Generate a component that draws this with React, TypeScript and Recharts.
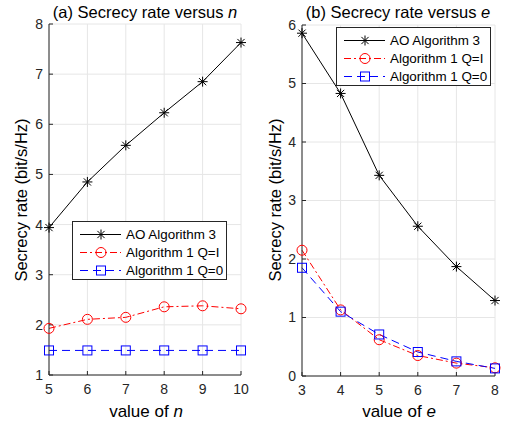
import React from "react";
import { LineChart, Line, XAxis, YAxis, CartesianGrid } from "recharts";

const nValues = [5, 6, 7, 8, 9, 10];
const nAO = [3.94, 4.85, 5.58, 6.23, 6.85, 7.63];
const nQI = [1.93, 2.11, 2.15, 2.36, 2.38, 2.32];
const nQ0 = [1.49, 1.49, 1.49, 1.49, 1.49, 1.49];
const nYTicks = [1, 2, 3, 4, 5, 6, 7, 8];

const eValues = [3, 4, 5, 6, 7, 8];
const eAO = [5.86, 4.83, 3.43, 2.56, 1.87, 1.29];
const eQI = [2.15, 1.13, 0.62, 0.35, 0.22, 0.14];
const eQ0 = [1.85, 1.1, 0.71, 0.41, 0.25, 0.13];
const eYTicks = [0, 1, 2, 3, 4, 5, 6];

const seriesNames = ["AO Algorithm 3", "Algorithm 1 Q=I", "Algorithm 1 Q=0"];

const FONT = "'Liberation Sans', Arial, sans-serif";
const AXIS = "#262626";

const Star = (props: any) => {
  const { cx, cy } = props;
  if (cx == null || cy == null) return null;
  const r = 5;
  const d = 3.6;
  return (
    <g stroke="#000" strokeWidth={1}>
      <line x1={cx - r} y1={cy} x2={cx + r} y2={cy} />
      <line x1={cx} y1={cy - r} x2={cx} y2={cy + r} />
      <line x1={cx - d} y1={cy - d} x2={cx + d} y2={cy + d} />
      <line x1={cx - d} y1={cy + d} x2={cx + d} y2={cy - d} />
    </g>
  );
};

const Circle = (props: any) => {
  const { cx, cy } = props;
  if (cx == null || cy == null) return null;
  return <circle cx={cx} cy={cy} r={5} fill="none" stroke="#ff0000" strokeWidth={1} />;
};

const Square = (props: any) => {
  const { cx, cy } = props;
  if (cx == null || cy == null) return null;
  return <rect x={cx - 4.5} y={cy - 4.5} width={9} height={9} fill="none" stroke="#0000ff" strokeWidth={1} />;
};

const tickStyle = { fontSize: 14, fill: AXIS, fontFamily: FONT };

function Panel(props: {
  xs: number[];
  ao: number[];
  qi: number[];
  q0: number[];
  yTicks: number[];
  left: number;
  marginLeft: number;
  marginTop: number;
  marginBottom: number;
}) {
  const { xs, ao, qi, q0, yTicks } = props;
  const data = xs.map((x, i) => ({ x, ao: ao[i], qi: qi[i], q0: q0[i] }));
  const xDomain = [xs[0], xs[xs.length - 1]];
  const yDomain = [yTicks[0], yTicks[yTicks.length - 1]];
  return (
    <div style={{ position: "absolute", left: props.left, top: 0 }}>
      <LineChart
        width={254}
        height={425}
        data={data}
        margin={{ top: props.marginTop, right: 13, bottom: props.marginBottom, left: props.marginLeft }}
      >
        <CartesianGrid stroke="#e6e6e6" />
        <XAxis
          dataKey="x"
          type="number"
          domain={xDomain}
          ticks={xs}
          height={30}
          stroke={AXIS}
          tickSize={-4}
          tickMargin={13}
          tick={tickStyle}
        />
        <XAxis
          xAxisId="top"
          orientation="top"
          dataKey="x"
          type="number"
          domain={xDomain}
          ticks={xs}
          height={0}
          stroke={AXIS}
          tickSize={-4}
          tick={false}
        />
        <YAxis
          type="number"
          domain={yDomain}
          ticks={yTicks}
          width={30}
          stroke={AXIS}
          tickSize={-4}
          tickMargin={10}
          tick={tickStyle}
        />
        <YAxis
          yAxisId="right"
          orientation="right"
          type="number"
          domain={yDomain}
          ticks={yTicks}
          width={0}
          stroke={AXIS}
          tickSize={-4}
          tick={false}
        />
        <Line dataKey="ao" stroke="#000" strokeWidth={1} dot={<Star />} isAnimationActive={false} />
        <Line
          dataKey="qi"
          stroke="#ff0000"
          strokeWidth={1}
          strokeDasharray="7 3 2 3"
          dot={<Circle />}
          isAnimationActive={false}
        />
        <Line
          dataKey="q0"
          stroke="#0000ff"
          strokeWidth={1}
          strokeDasharray="8 5"
          dot={<Square />}
          isAnimationActive={false}
        />
      </LineChart>
    </div>
  );
}

function LegendBox(props: { left: number; top: number }) {
  const markers = [
    { color: "#000", dash: undefined, mark: (x: number, y: number) => <Star cx={x} cy={y} /> },
    { color: "#ff0000", dash: "7 3 2 3", mark: (x: number, y: number) => <Circle cx={x} cy={y} /> },
    { color: "#0000ff", dash: "8 5", mark: (x: number, y: number) => <Square cx={x} cy={y} /> },
  ];
  return (
    <div
      style={{
        position: "absolute",
        left: props.left,
        top: props.top,
        width: 155,
        height: 59,
        background: "#fff",
        border: `1px solid ${AXIS}`,
        boxSizing: "border-box",
        fontFamily: FONT,
        fontSize: 13.4,
        color: "#000",
      }}
    >
      {seriesNames.map((name, i) => (
        <div key={name} style={{ position: "absolute", left: 0, top: 4 + i * 17.8, height: 17, display: "flex", alignItems: "center" }}>
          <svg width={51} height={17} style={{ display: "block" }}>
            <line x1={7} y1={8.5} x2={48} y2={8.5} stroke={markers[i].color} strokeWidth={1} strokeDasharray={markers[i].dash} />
            {markers[i].mark(28, 8.5)}
          </svg>
          <span style={{ marginLeft: 2, whiteSpace: "nowrap" }}>{name}</span>
        </div>
      ))}
    </div>
  );
}

const labelStyle: React.CSSProperties = {
  position: "absolute",
  fontFamily: FONT,
  color: "#000",
  whiteSpace: "nowrap",
  transform: "translate(-50%, -50%)",
};

export default function App() {
  return (
    <div style={{ position: "absolute", left: 0, top: 0, width: 508, height: 425, background: "#fff" }}>
      <Panel xs={nValues} ao={nAO} qi={nQI} q0={nQ0} yTicks={nYTicks} left={0} marginLeft={19} marginTop={24} marginBottom={20} />
      <Panel xs={eValues} ao={eAO} qi={eQI} q0={eQ0} yTicks={eYTicks} left={254} marginLeft={18} marginTop={25} marginBottom={19} />

      <div style={{ ...labelStyle, left: 145, top: 12, fontSize: 16.5 }}>
        (a) Secrecy rate versus <i>n</i>
      </div>
      <div style={{ ...labelStyle, left: 398, top: 12, fontSize: 16.5 }}>
        (b) Secrecy rate versus <i>e</i>
      </div>

      <div style={{ ...labelStyle, left: 21, top: 200, fontSize: 16.5, transform: "translate(-50%, -50%) rotate(-90deg)" }}>
        Secrecy rate (bit/s/Hz)
      </div>
      <div style={{ ...labelStyle, left: 275, top: 200, fontSize: 16.5, transform: "translate(-50%, -50%) rotate(-90deg)" }}>
        Secrecy rate (bit/s/Hz)
      </div>

      <div style={{ ...labelStyle, left: 146, top: 412, fontSize: 17 }}>
        value of <i>n</i>
      </div>
      <div style={{ ...labelStyle, left: 399, top: 412, fontSize: 17 }}>
        value of <i>e</i>
      </div>

      <LegendBox left={72} top={221} />
      <LegendBox left={336} top={27} />
    </div>
  );
}
